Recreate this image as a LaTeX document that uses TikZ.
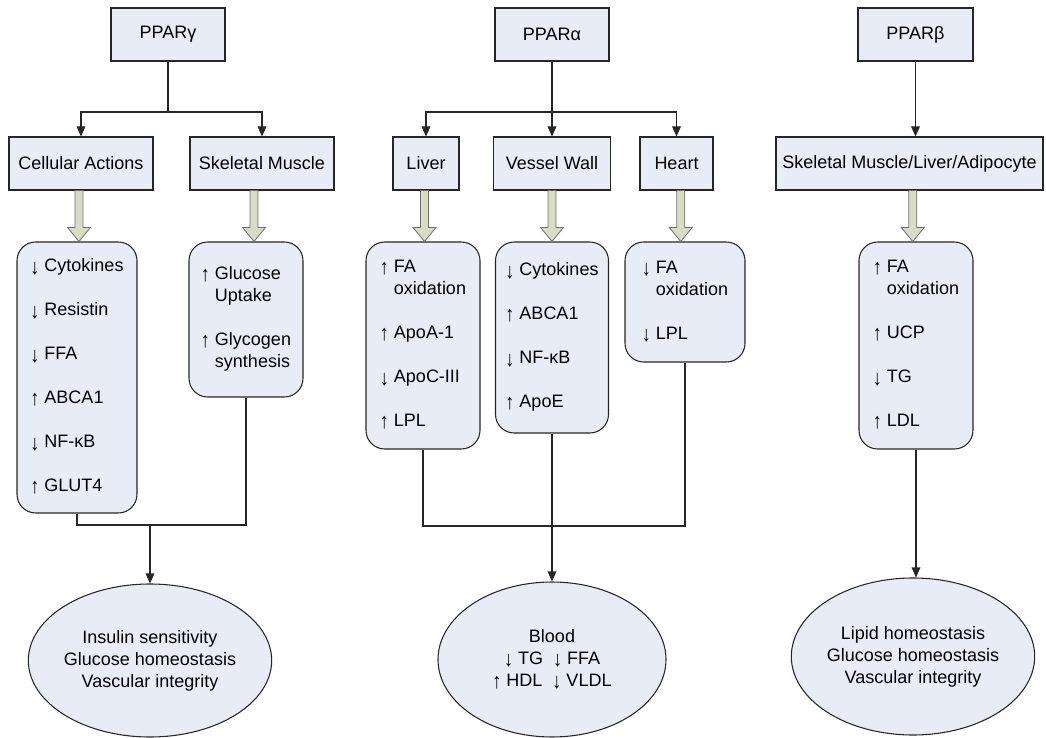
\documentclass[tikz,border=0pt]{standalone}
\usepackage{fontspec}
\setmainfont{Liberation Sans}
\usetikzlibrary{shapes.geometric,arrows.meta,calc}
\definecolor{boxfill}{RGB}{231,236,247}
\definecolor{fatfill}{RGB}{216,220,196}
\definecolor{fatline}{RGB}{110,110,110}
\newcommand\items[1]{\begin{tabular}{@{}l@{\ }l@{}}#1\end{tabular}}
\newcommand\gap{\\[16.5pt]}
\newcommand\upa{\raisebox{-0.08em}{\scalebox{1}[1.2]{↑}}}
\newcommand\dna{\raisebox{-0.12em}{\scalebox{1}[1.2]{↓}}}
\newcommand\fatarr[2]{\draw[fatarrow] let \p1=(#1.south), \p2=(#2.north), \p3=($(#1.south)!.5!(#2.north)$) in
  (\x3-3pt,\y1) -- (\x3+3pt,\y1) -- (\x3+3pt,\y2+10.5pt) -- (\x3+8.6pt,\y2+10.5pt) -- (\x3,\y2)
  -- (\x3-8.6pt,\y2+10.5pt) -- (\x3-3pt,\y2+10.5pt) -- cycle;}
\begin{document}
\begin{tikzpicture}[x=0.75pt,y=-0.75pt,
  every node/.style={font=\fontsize{13.5}{16.5}\selectfont, text=black},
  sz/.style 2 args={minimum width=#1*0.75pt, minimum height=#2*0.75pt},
  hbox/.style={draw=black!85, fill=boxfill, line width=0.8pt, inner sep=0pt},
  rbox/.style={hbox, rounded corners=14pt},
  oval/.style={ellipse, draw=black!85, fill=boxfill, line width=0.8pt, inner sep=0pt, align=center},
  conn/.style={draw=black!85, line width=0.8pt},
  arr/.style={conn, -{Triangle[length=7.5pt,width=6.5pt]}},
  fatarrow/.style={draw=fatline, fill=fatfill, line width=0.6pt, line join=miter}
]
\useasboundingbox (0,0) rectangle (1046,738);

% top level
\node[hbox, sz={114}{53}] (g) at (168,34.5) {PPARγ};
\node[hbox, sz={114}{53}] (a) at (552,34.5) {PPARα};
\node[hbox, sz={115}{53}] (b) at (915.5,34.5) {PPARβ};

% second level
\node[hbox, sz={144}{53}] (ca) at (81,163.5) {Cellular Actions};
\node[hbox, sz={144}{53}] (sm) at (262,163.5) {Skeletal Muscle};
\node[hbox, sz={66}{53}] (li) at (426,163.5) {Liver};
\node[hbox, sz={117}{53}] (vw) at (552,163.5) {Vessel Wall};
\node[hbox, sz={73}{53}] (he) at (676.5,163.5) {Heart};
\node[hbox, sz={267}{53}] (sla) at (909.5,163.5) {Skeletal Muscle/Liver/Adipocyte};

% rounded boxes
\node[rbox, sz={120}{271}] (r1) at (77,377.5) {\items{\dna&Cytokines\gap \dna&Resistin\gap \dna&FFA\gap \upa&ABCA1\gap \dna&NF-κB\gap \upa&GLUT4}};
\node[rbox, sz={114}{155}] (r2) at (246,319.5) {\items{\upa&Glucose\\ &Uptake\gap \upa&Glycogen\\ &synthesis}};
\node[rbox, sz={114}{207}] (r3) at (423,345.5) {\items{\upa&FA\\ &oxidation\gap \upa&ApoA-1\gap \dna&ApoC-III\gap \upa&LPL}};
\node[rbox, sz={113}{191}] (r4) at (552,337.5) {\items{\dna&Cytokines\gap \upa&ABCA1\gap \dna&NF-κB\gap \upa&ApoE}};
\node[rbox, sz={120}{120}] (r5) at (685,302) {\items{\dna&FA\\ &oxidation\gap \dna&LPL}};
\node[rbox, sz={114}{207}] (r6) at (916,345.5) {\items{\upa&FA\\ &oxidation\gap \upa&UCP\gap \dna&TG\gap \upa&LDL}};

% ellipses
\node[oval, sz={234}{153}] (e1) at (150,660.5) {Insulin sensitivity\\Glucose homeostasis\\Vascular integrity};
\node[oval, sz={228}{155}] (e2) at (552,659.5) {Blood\\\dna\ TG\ \ \dna\ FFA\\\upa\ HDL\ \ \dna\ VLDL};
\node[oval, sz={222}{157}] (e3) at (913,656.5) {Lipid homeostasis\\Glucose homeostasis\\Vascular integrity};

% thin connectors, top
\coordinate (gj) at (168,112);
\draw[conn] (g.south) -- (gj);
\draw[arr] (gj) -| (ca.north);
\draw[arr] (gj) -| (sm.north);
\coordinate (aj) at (552,112);
\draw[arr] (a.south) -- (vw.north);
\draw[arr] (aj) -| (li.north);
\draw[arr] (aj) -| (he.north);
\draw[arr] (b.south) -- (b.south |- sla.north);

% fat arrows
\fatarr{ca}{r1}
\fatarr{sm}{r2}
\fatarr{li}{r3}
\fatarr{vw}{r4}
\fatarr{he}{r5}
\fatarr{sla}{r6}

% bottom connectors
\coordinate (j1) at (150,525);
\draw[conn] (r1.south) |- (j1) -| (r2.south);
\draw[arr] (j1) -- (e1.north);
\coordinate (j2) at (552,526);
\draw[conn] (r3.south) |- (j2) -| (r5.south);
\draw[conn] (r4.south) -- (j2);
\draw[arr] (j2) -- (e2.north);
\draw[arr] (r6.south) -- (r6.south |- e3.north);
\end{tikzpicture}
\end{document}
